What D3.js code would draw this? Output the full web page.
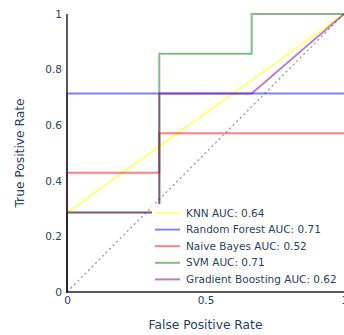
<!DOCTYPE html>
<html>
<head>
<meta charset="utf-8">
<script src="https://cdn.jsdelivr.net/npm/d3@7"></script>
<style>
  html, body { margin: 0; padding: 0; background: #fff; }
  svg { display: block; font-family: "DejaVu Sans", Verdana, sans-serif; }
</style>
</head>
<body>
<svg id="chart" width="344" height="335"></svg>
<script>
// ROC curve points per model (false positive rate, true positive rate)
const models = ["KNN", "Random Forest", "Naive Bayes", "SVM", "Gradient Boosting"];
const aucs = [0.64, 0.71, 0.52, 0.71, 0.62];
const colors = ["#ffff00", "#0000ff", "#ff0000", "#008000", "#800080"];

const knnFpr = [0, 0, 1];
const knnTpr = [0, 0.2857, 1];
const rfFpr = [0, 0, 1];
const rfTpr = [0, 0.7143, 0.7143];
const nbFpr = [0, 0, 0.3333, 0.3333, 1];
const nbTpr = [0, 0.4286, 0.4286, 0.5714, 0.5714];
const svmFpr = [0, 0, 0.3333, 0.3333, 0.6667, 0.6667, 1];
const svmTpr = [0, 0.2857, 0.2857, 0.8571, 0.8571, 1, 1];
const gbFpr = [0, 0, 0.3333, 0.3333, 0.6667, 1];
const gbTpr = [0, 0.2857, 0.2857, 0.7143, 0.7143, 1];

const xTicks = [0, 0.5, 1];
const yTicks = [0, 0.2, 0.4, 0.6, 0.8, 1];

const curves = [
  [knnFpr, knnTpr], [rfFpr, rfTpr], [nbFpr, nbTpr], [svmFpr, svmTpr], [gbFpr, gbTpr]
].map(([f, t]) => f.map((v, i) => [v, t[i]]));

const svg = d3.select("#chart");
const margin = { left: 67, right: 0, top: 14, bottom: 43 };
const W = 344, H = 335;
const x = d3.scaleLinear().domain([0, 1]).range([margin.left, W - margin.right]);
const y = d3.scaleLinear().domain([0, 1]).range([H - margin.bottom, margin.top]);
const textColor = "#2a3f5f";
const tickSize = 10.5;

// chance diagonal
svg.append("line")
  .attr("x1", x(0)).attr("y1", y(0)).attr("x2", x(1)).attr("y2", y(1))
  .attr("stroke", "#2a3f5f").attr("stroke-opacity", 0.55)
  .attr("stroke-width", 1.3).attr("stroke-dasharray", "2,3");

const line = d3.line().x(d => x(d[0])).y(d => y(d[1]));
curves.forEach((pts, i) => {
  svg.append("path").datum(pts)
    .attr("d", line)
    .attr("fill", "none")
    .attr("stroke", colors[i])
    .attr("stroke-opacity", 0.5)
    .attr("stroke-width", 2);
});

// axes lines
svg.append("line").attr("x1", x(0)).attr("x2", x(0)).attr("y1", y(0) + 1).attr("y2", y(1))
  .attr("stroke", "#222").attr("stroke-width", 1.5);
svg.append("line").attr("x1", x(0) - 1).attr("x2", W).attr("y1", y(0)).attr("y2", y(0))
  .attr("stroke", "#222").attr("stroke-width", 1.5);

// tick labels
const fmt = d => d === 0 || d === 1 ? String(d) : d3.format(".1f")(d);
const yAxis = d3.axisLeft(y).tickValues(yTicks).tickSize(0).tickPadding(5).tickFormat(fmt);
const gy = svg.append("g").attr("transform", `translate(${x(0)},0)`).call(yAxis);
gy.select(".domain").remove();
gy.selectAll("text").attr("fill", textColor).attr("font-size", tickSize)
  .attr("font-family", "'DejaVu Sans', Verdana, sans-serif");

const xAxis = d3.axisBottom(x).tickValues(xTicks).tickSize(0).tickPadding(5).tickFormat(fmt);
const gx = svg.append("g").attr("transform", `translate(0,${y(0)})`).call(xAxis);
gx.select(".domain").remove();
gx.selectAll("text").attr("fill", textColor).attr("font-size", tickSize)
  .attr("font-family", "'DejaVu Sans', Verdana, sans-serif");

// axis titles
svg.append("text").attr("x", (x(0) + x(1)) / 2).attr("y", 329)
  .attr("text-anchor", "middle").attr("fill", textColor).attr("font-size", 12.25)
  .text("False Positive Rate");
svg.append("text")
  .attr("transform", `translate(24,${(y(0) + y(1)) / 2}) rotate(-90)`)
  .attr("text-anchor", "middle").attr("fill", textColor).attr("font-size", 12.25)
  .text("True Positive Rate");

// legend
const lg = svg.append("g").attr("transform", "translate(152,204)");
lg.append("rect").attr("x", 0).attr("y", 0).attr("width", 192).attr("height", 83).attr("fill", "#fff");
models.forEach((m, i) => {
  const yy = 9 + i * 16.6;
  lg.append("line").attr("x1", 3).attr("x2", 28).attr("y1", yy).attr("y2", yy)
    .attr("stroke", colors[i]).attr("stroke-opacity", 0.5).attr("stroke-width", 2);
  lg.append("text").attr("x", 34).attr("y", yy).attr("dy", "0.35em")
    .attr("fill", textColor).attr("font-size", tickSize)
    .text(`${m} AUC: ${aucs[i].toFixed(2)}`);
});
</script>
</body>
</html>
